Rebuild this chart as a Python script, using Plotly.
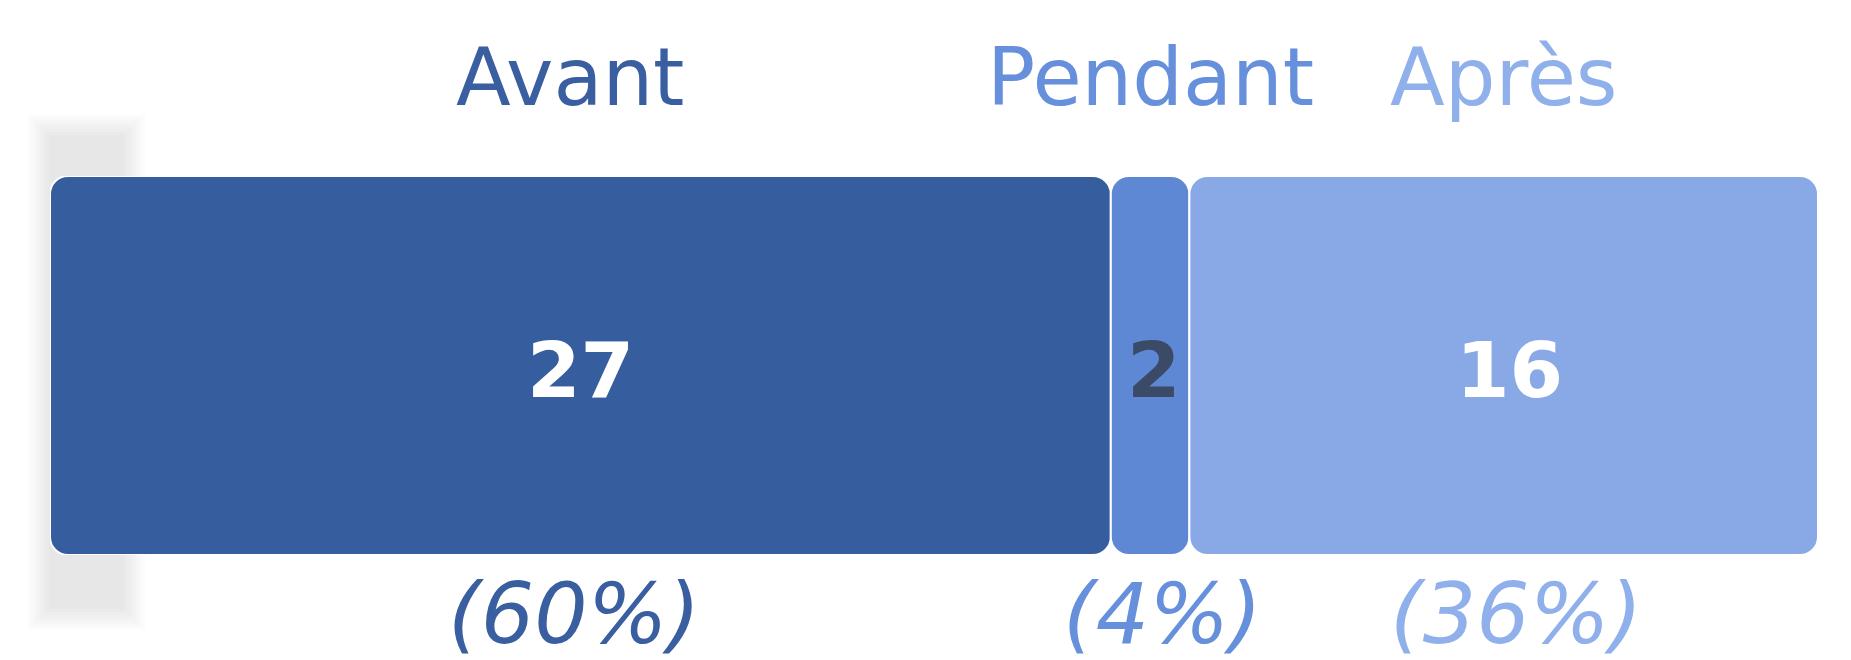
import plotly.graph_objects as go

categories = ["Avant", "Pendant", "Après"]
values = [27, 2, 16]
bar_colors = ["#365E9E", "#5F88D4", "#88A9E5"]
label_colors = ["#3A5FA0", "#6690DB", "#8FB0EA"]
value_text_colors = ["#FFFFFF", "#3B4A66", "#FFFFFF"]
label_xshift = [-10, 0, 0]
value_xshift = [0, 4, 6]
pct_xshift = [-6, 12, 12]

total = sum(values)
bases = []
acc = 0
for v in values:
    bases.append(acc)
    acc += v
centers = [b + v / 2 for b, v in zip(bases, values)]
percents = [f"({round(v / total * 100)}%)" for v in values]

fig = go.Figure()

# soft grey shadow at the left end (stacked faint layers to mimic a blur)
n_layers = 8
plot_w, plot_h = 1768.0, 379.0
for i in range(n_layers):
    d = 3.0 * i  # pixels inset per layer
    fig.add_shape(type="rect", xref="paper", yref="paper",
                  x0=(-22 + d) / plot_w, x1=(95 - d) / plot_w,
                  y0=(-75 + d) / plot_h, y1=1 + (62 - d) / plot_h,
                  fillcolor="rgba(0,0,0,0.012)", line=dict(width=0), layer="below")

for cat, v, b, col in zip(categories, values, bases, bar_colors):
    fig.add_trace(go.Bar(
        y=[0], x=[v], base=[b], orientation="h", width=1,
        name=cat, marker=dict(color=col, cornerradius=18,
                              line=dict(color="white", width=2)),
        hoverinfo="skip", showlegend=False,
    ))

for c, cat, pct, lc, vc, v, xs, vxs, pxs in zip(centers, categories, percents, label_colors,
                                                value_text_colors, values, label_xshift,
                                                value_xshift, pct_xshift):
    fig.add_annotation(x=c, y=1.26, yref="paper", text=cat, showarrow=False,
                       yanchor="middle", xshift=xs,
                       font=dict(family="DejaVu Sans", size=80, color=lc))
    fig.add_annotation(x=c, y=0.487, yref="paper", text=f"<b>{v}</b>", showarrow=False,
                       yanchor="middle", xshift=vxs,
                       font=dict(family="DejaVu Sans", size=77, color=vc))
    fig.add_annotation(x=c, y=-0.155, yref="paper", text=f"<i>{pct}</i>", showarrow=False,
                       yanchor="middle", xshift=pxs,
                       font=dict(family="DejaVu Sans", size=84, color=lc))

fig.update_layout(
    width=1851, height=660,
    margin=dict(l=42, r=41, t=168, b=113),
    barmode="overlay",
    plot_bgcolor="rgba(0,0,0,0)", paper_bgcolor="white",
    xaxis=dict(range=[0, total], visible=False, fixedrange=True),
    yaxis=dict(range=[-0.5, 0.5], visible=False, fixedrange=True),
)

fig.write_html("out.html")
